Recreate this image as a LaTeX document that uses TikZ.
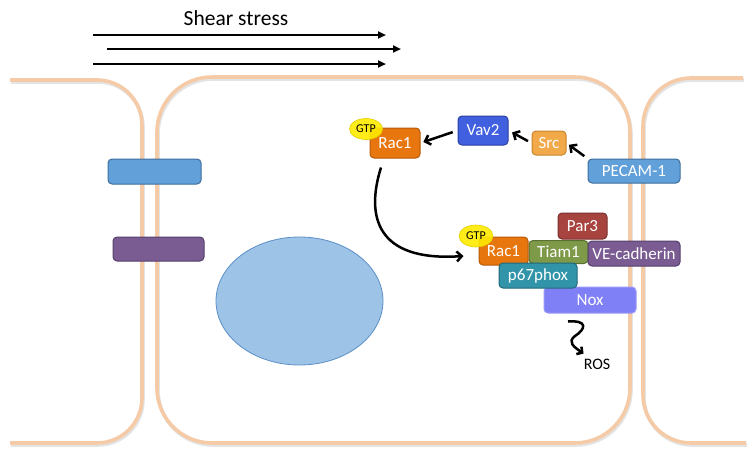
\documentclass[tikz,border=0pt]{standalone}
\usepackage{fontspec}
\setmainfont{Carlito}
\usetikzlibrary{arrows.meta,calc,shapes.geometric}
\definecolor{memb}{HTML}{F5CBA7}
\definecolor{membsh}{HTML}{D8D8D8}
\definecolor{racfill}{HTML}{E8760E}
\definecolor{racline}{HTML}{B45A0A}
\definecolor{vavfill}{HTML}{4060E0}
\definecolor{vavline}{HTML}{2A40A0}
\definecolor{srcfill}{HTML}{F2A94A}
\definecolor{srcline}{HTML}{C8842C}
\definecolor{pecfill}{HTML}{62A0DA}
\definecolor{pecline}{HTML}{3E6E9C}
\definecolor{tiamfill}{HTML}{7E9A48}
\definecolor{tiamline}{HTML}{5A7030}
\definecolor{parfill}{HTML}{A8443F}
\definecolor{parline}{HTML}{7A2F2C}
\definecolor{vefill}{HTML}{7A5C92}
\definecolor{veline}{HTML}{55406C}
\definecolor{pfill}{HTML}{3194A8}
\definecolor{pline}{HTML}{21687A}
\definecolor{noxfill}{HTML}{8080F6}
\definecolor{noxline}{HTML}{9A9AF8}
\definecolor{gtpfill}{HTML}{FFEA00}
\definecolor{gtpline}{HTML}{E2D000}
\definecolor{nucfill}{HTML}{9DC3E6}
\definecolor{nucline}{HTML}{5B8FC8}
\begin{document}
\begin{tikzpicture}[x=1pt,y=-1pt,
  membrane/.style={draw=memb, line width=3.6pt, rounded corners=#1},
  membshadow/.style={draw=membsh, line width=3.6pt, rounded corners=#1, opacity=0.7},
  prot/.style n args={2}{fill=#1, draw=#2, rounded corners=4pt, text=white,
    inner sep=0pt, line width=1pt, font=\fontsize{17}{19}\selectfont},
  gtp/.style={ellipse, fill=gtpfill, draw=gtpline, fill opacity=0.9, text opacity=1,
    inner sep=0pt, line width=0.6pt, font=\fontsize{12}{13}\selectfont},
  arr/.style={draw=black, line width=2.5pt, -{Straight Barb[length=5pt,width=10pt]}},
  flow/.style={draw=black, line width=2pt, -{Triangle[length=8pt,width=7pt]}},
  lbl/.style={inner sep=0pt, text=black}
]
\useasboundingbox (0,0) rectangle (753,456);

% membranes (shadow then line)
\begin{scope}[shift={(1,2)}]
\draw[membshadow=45] (10,80) -- (142,80) -- (142,443) -- (10,443);
\draw[membshadow=55] (157,77) rectangle (630,443);
\draw[membshadow=48] (743,78) -- (643,78) -- (643,443) -- (746,443);
\end{scope}
\draw[membrane=45] (10,80) -- (142,80) -- (142,443) -- (10,443);
\draw[membrane=55] (157,77) rectangle (630,443);
\draw[membrane=48] (743,78) -- (643,78) -- (643,443) -- (746,443);

% shear stress
\node[lbl, font=\fontsize{21.5}{23}\selectfont] (shear) at (236,18) {Shear stress};
\coordinate (f1a) at (93,35);  \coordinate (f1b) at (386,35);
\coordinate (f2a) at (107,49); \coordinate (f2b) at (401,49);
\coordinate (f3a) at (93,64);  \coordinate (f3b) at (386,64);
\draw[flow] (f1a) -- (f1b);
\draw[flow] (f2a) -- (f2b);
\draw[flow] (f3a) -- (f3b);

% junction proteins, left
\node[prot={pecfill}{pecline}, minimum width=93, minimum height=25] (jb) at (154.5,171.5) {};
\node[prot={vefill}{veline}, minimum width=91, minimum height=24] (jp) at (158.5,249) {};

% nucleus
\node[ellipse, fill=nucfill, draw=nucline, line width=0.8pt, minimum width=167, minimum height=128, inner sep=0pt] (nuc) at (299.5,301) {};

% upper pathway
\node[prot={racfill}{racline}, minimum width=50, minimum height=30] (racA) at (395,143) {Rac1};
\node[gtp, minimum width=33, minimum height=21] (gtpA) at (366,129) {GTP};
\node[prot={vavfill}{vavline}, minimum width=50, minimum height=29] (vav) at (483,130.5) {Vav2};
\node[prot={srcfill}{srcline}, minimum width=34, minimum height=24] (src) at (549,143) {Src};
\node[prot={pecfill}{pecline}, minimum width=92, minimum height=24] (pecam) at (634,171) {PECAM-1};

\draw[arr, shorten <=5pt, shorten >=3pt] (vav.west) -- (racA.east);
\draw[arr, shorten <=4pt, shorten >=4pt] (src.west) -- (vav.east);
\draw[arr, shorten <=4pt, shorten >=3pt] (pecam.north west) -- (src.east);

% lower complex
\node[prot={noxfill}{noxline}, minimum width=92, minimum height=26] (nox) at (590,300) {Nox};
\node[prot={parfill}{parline}, minimum width=49, minimum height=26] (par) at (582.5,226) {Par3};
\node[prot={tiamfill}{tiamline}, minimum width=59, minimum height=23] (tiam) at (558.5,252) {Tiam1};
\node[prot={racfill}{racline}, minimum width=49, minimum height=28] (racB) at (503.5,251) {Rac1};
\node[prot={vefill}{veline}, minimum width=92, minimum height=25] (ve) at (634,253.5) {VE-cadherin};
\node[prot={pfill}{pline}, minimum width=78, minimum height=25] (p67) at (538,275.5) {p67phox};
\node[gtp, minimum width=34, minimum height=22] (gtpB) at (476,236) {GTP};

% Rac1 translocation
\draw[arr] ($(racA.south)+(-14,9)$) .. controls (366,215) and (375,262) .. ($(racB.west)+(-15,5)$);

% ROS
\node[lbl, font=\fontsize{16}{18}\selectfont] (ros) at (597,364) {ROS};
\draw[line width=2.5pt, -{Straight Barb[length=4pt,width=9pt]}]
  ($(nox.south)+(-22,8)$) .. controls (588,320) and (586,329) .. (575,336)
  .. controls (567,342) and (574,347) .. ($(ros.north west)+(0,-5)$);
\end{tikzpicture}
\end{document}
